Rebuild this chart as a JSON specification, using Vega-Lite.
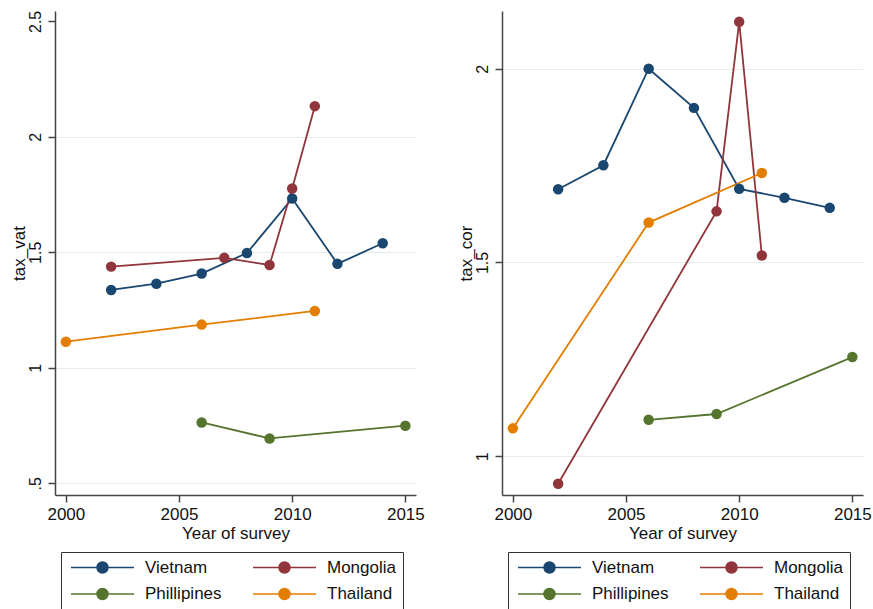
{
  "$schema": "https://vega.github.io/schema/vega-lite/v6.json",
  "background": "white",
  "padding": {"left": 10, "top": 10, "right": 0, "bottom": 0},
  "bounds": "flush",
  "spacing": 86,
  "config": {
    "font": "Liberation Sans",
    "view": {"stroke": null},
    "axis": {"labelColor": "#111111", "titleColor": "#111111", "titleFontWeight": "normal", "domainColor": "#444444", "tickColor": "#444444", "domainWidth": 1.5, "tickWidth": 1.5, "tickSize": 7, "labelFlush": false, "labelOverlap": false},
    "legend": {"labelColor": "#111111"}
  },
  "data": {
    "values": [
      {"country": "Vietnam", "year": 2002, "tax_vat": 1.337, "tax_cor": 1.689},
      {"country": "Vietnam", "year": 2004, "tax_vat": 1.364, "tax_cor": 1.751},
      {"country": "Vietnam", "year": 2006, "tax_vat": 1.408, "tax_cor": 2.0},
      {"country": "Vietnam", "year": 2008, "tax_vat": 1.497, "tax_cor": 1.899},
      {"country": "Vietnam", "year": 2010, "tax_vat": 1.733, "tax_cor": 1.69},
      {"country": "Vietnam", "year": 2012, "tax_vat": 1.45, "tax_cor": 1.667},
      {"country": "Vietnam", "year": 2014, "tax_vat": 1.539, "tax_cor": 1.641},
      {"country": "Mongolia", "year": 2002, "tax_vat": 1.438, "tax_cor": 0.929},
      {"country": "Mongolia", "year": 2007, "tax_vat": 1.476, "tax_cor": null},
      {"country": "Mongolia", "year": 2009, "tax_vat": 1.445, "tax_cor": 1.632},
      {"country": "Mongolia", "year": 2010, "tax_vat": 1.776, "tax_cor": 2.121},
      {"country": "Mongolia", "year": 2011, "tax_vat": 2.133, "tax_cor": 1.518},
      {"country": "Phillipines", "year": 2006, "tax_vat": 0.763, "tax_cor": 1.094},
      {"country": "Phillipines", "year": 2009, "tax_vat": 0.694, "tax_cor": 1.109},
      {"country": "Phillipines", "year": 2015, "tax_vat": 0.749, "tax_cor": 1.256},
      {"country": "Thailand", "year": 2000, "tax_vat": 1.113, "tax_cor": 1.072},
      {"country": "Thailand", "year": 2006, "tax_vat": 1.187, "tax_cor": 1.603},
      {"country": "Thailand", "year": 2011, "tax_vat": 1.246, "tax_cor": 1.731}
    ]
  },
  "resolve": {"scale": {"color": "independent"}, "legend": {"color": "independent"}},
  "hconcat": [
    {
      "width": 361,
      "height": 484,
      "transform": [{"filter": "isValid(datum.tax_vat)"}],
      "encoding": {
        "x": {"field": "year", "type": "quantitative", "scale": {"domain": [1999.52, 2015.47], "nice": false, "zero": false},
          "axis": {"values": [2000, 2005, 2010, 2015], "format": "d", "title": "Year of survey", "titleFontSize": 17, "labelFontSize": 17, "labelPadding": 4, "grid": false, "titleY": 43, "titleBaseline": "alphabetic"}},
        "y": {"field": "tax_vat", "type": "quantitative", "scale": {"domain": [0.449, 2.545], "nice": false, "zero": false},
          "axis": {"values": [0.5, 1, 1.5, 2, 2.5], "labelExpr": "datum.value == 0.5 ? '.5' : '' + datum.value", "labelAngle": 270, "labelAlign": "center", "labelBaseline": "alphabetic", "labelFontSize": 16, "labelPadding": 8, "title": "tax_vat", "titleFontSize": 17, "titleAngle": 270, "titleX": -30.5, "titleY": 242, "titleAlign": "center", "titleBaseline": "alphabetic", "grid": true, "gridColor": {"condition": {"test": "datum.value == 2.5", "value": "transparent"}, "value": "#e4edf0"}}},
        "color": {"field": "country", "type": "nominal",
          "scale": {"domain": ["Vietnam", "Phillipines", "Mongolia", "Thailand"], "range": ["#1a476f", "#55752f", "#90353b", "#e37e00"]},
          "legend": {"title": null, "orient": "none", "legendX": 6, "legendY": 541, "columns": 2, "symbolType": "M-1,0L10.45,0M3.727,0A1,1,0,1,1,5.727,0A1,1,0,1,1,3.727,0Z", "symbolSize": 121, "symbolStrokeWidth": 1.5, "symbolOpacity": 1, "labelFontSize": 17, "labelOffset": 60, "columnPadding": 28, "rowPadding": 8.5, "padding": 7, "strokeColor": "#333333", "labelLimit": 300}}
      },
      "layer": [
        {"mark": {"type": "line", "strokeWidth": 1.8}, "encoding": {}},
        {"mark": {"type": "point", "filled": true, "size": 110, "opacity": 1}, "encoding": {}}
      ]
    },
    {
      "width": 361,
      "height": 484,
      "transform": [{"filter": "isValid(datum.tax_cor)"}],
      "encoding": {
        "x": {"field": "year", "type": "quantitative", "scale": {"domain": [1999.52, 2015.47], "nice": false, "zero": false},
          "axis": {"values": [2000, 2005, 2010, 2015], "format": "d", "title": "Year of survey", "titleFontSize": 17, "labelFontSize": 17, "labelPadding": 4, "grid": false, "titleY": 43, "titleBaseline": "alphabetic"}},
        "y": {"field": "tax_cor", "type": "quantitative", "scale": {"domain": [0.9, 2.149], "nice": false, "zero": false},
          "axis": {"values": [1, 1.5, 2], "labelExpr": "'' + datum.value", "labelAngle": 270, "labelAlign": "center", "labelBaseline": "alphabetic", "labelFontSize": 16, "labelPadding": 8, "title": "tax_cor", "titleFontSize": 17, "titleAngle": 270, "titleX": -30.5, "titleY": 242, "titleAlign": "center", "titleBaseline": "alphabetic", "grid": true, "gridColor": "#e4edf0"}},
        "color": {"field": "country", "type": "nominal",
          "scale": {"domain": ["Vietnam", "Phillipines", "Mongolia", "Thailand"], "range": ["#1a476f", "#55752f", "#90353b", "#e37e00"]},
          "legend": {"title": null, "orient": "none", "legendX": 6, "legendY": 541, "columns": 2, "symbolType": "M-1,0L10.45,0M3.727,0A1,1,0,1,1,5.727,0A1,1,0,1,1,3.727,0Z", "symbolSize": 121, "symbolStrokeWidth": 1.5, "symbolOpacity": 1, "labelFontSize": 17, "labelOffset": 60, "columnPadding": 28, "rowPadding": 8.5, "padding": 7, "strokeColor": "#333333", "labelLimit": 300}}
      },
      "layer": [
        {"mark": {"type": "line", "strokeWidth": 1.8}, "encoding": {}},
        {"mark": {"type": "point", "filled": true, "size": 110, "opacity": 1}, "encoding": {}}
      ]
    }
  ]
}
